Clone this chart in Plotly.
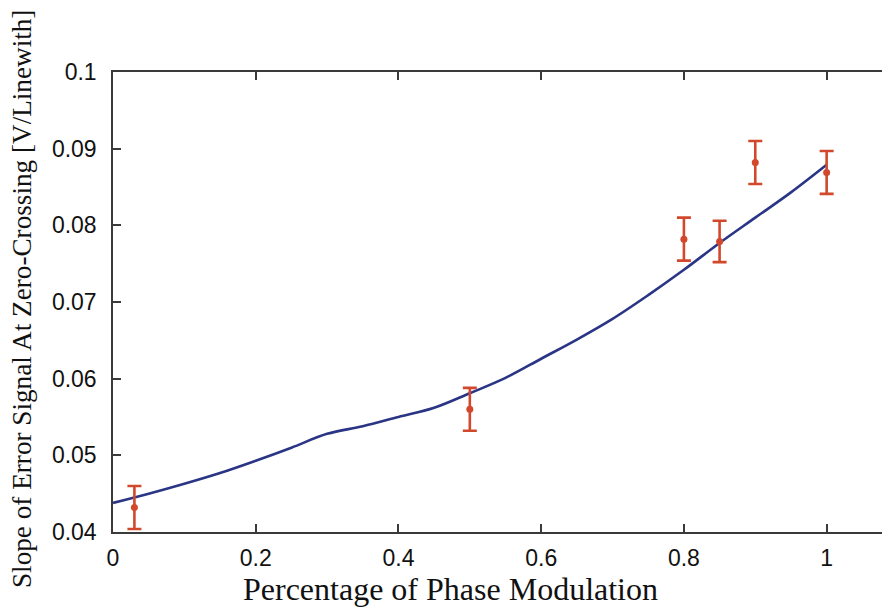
import plotly.graph_objects as go

# Fitted model curve (blue line)
curve_x = [0.00, 0.05, 0.10, 0.15, 0.20, 0.25, 0.30, 0.35, 0.40, 0.45, 0.50,
           0.55, 0.60, 0.65, 0.70, 0.75, 0.80, 0.85, 0.90, 0.95, 1.00]
curve_y = [0.0438, 0.0450, 0.0463, 0.0477, 0.0493, 0.0510, 0.0528, 0.0538, 0.0550, 0.0562, 0.0581,
           0.0601, 0.0626, 0.0651, 0.0678, 0.0709, 0.0742, 0.0777, 0.0810, 0.0843, 0.0879]

# Measured points with error bars (red)
meas_x = [0.03, 0.50, 0.80, 0.85, 0.90, 1.00]
meas_y = [0.0432, 0.0560, 0.0782, 0.0779, 0.0882, 0.0869]
meas_err = [0.0028, 0.0028, 0.0028, 0.0027, 0.0028, 0.0028]

x_ticks = [0, 0.2, 0.4, 0.6, 0.8, 1]
x_tick_labels = ["0", "0.2", "0.4", "0.6", "0.8", "1"]
y_ticks = [0.04, 0.05, 0.06, 0.07, 0.08, 0.09, 0.1]
y_tick_labels = ["0.04", "0.05", "0.06", "0.07", "0.08", "0.09", "0.1"]

x_title = "Percentage of Phase Modulation"
y_title = "Slope of Error Signal At Zero-Crossing [V/Linewith]"

RED = "#d2482c"
BLUE = "#2a3585"
AXIS = "#3a3a3a"

fig = go.Figure()
fig.add_trace(go.Scatter(x=curve_x, y=curve_y, mode="lines",
                         line=dict(color=BLUE, width=2.6), line_shape="spline",
                         showlegend=False, hoverinfo="skip"))
fig.add_trace(go.Scatter(x=meas_x, y=meas_y, mode="markers",
                         marker=dict(color=RED, size=7),
                         error_y=dict(type="data", array=meas_err, color=RED,
                                      thickness=2.6, width=7, visible=True),
                         showlegend=False))

W, H = 890, 612
L, T, B = 105, 64, 88   # page body adds an 8px offset
fig.update_layout(
    width=W, height=H,
    margin=dict(l=L, r=0, t=T, b=B, autoexpand=False),
    paper_bgcolor="white", plot_bgcolor="white",
    font=dict(family="Liberation Sans, Arial, sans-serif", size=23, color="#111"),
    xaxis=dict(range=[0, 1.1], tickvals=x_ticks, ticktext=x_tick_labels,
               ticks="inside", ticklen=8, tickwidth=1.5, tickcolor=AXIS,
               showline=True, linecolor=AXIS, linewidth=1.5, mirror="ticks",
               showgrid=False, zeroline=False, automargin=False,
               ticklabelstandoff=5,
               tickfont=dict(size=23, color="#111")),
    yaxis=dict(range=[0.04, 0.1], tickvals=y_ticks, ticktext=y_tick_labels,
               ticks="inside", ticklen=8, tickwidth=1.5, tickcolor=AXIS,
               showline=True, linecolor=AXIS, linewidth=1.5, mirror="ticks",
               showgrid=False, zeroline=False, automargin=False,
               ticklabelstandoff=10,
               tickfont=dict(size=23, color="#111")),
    annotations=[
        dict(text=x_title, xref="paper", yref="paper",
             x=(442 - L) / (W - L), y=(H - B - 581) / (H - B - T),
             xanchor="center", yanchor="middle", showarrow=False,
             font=dict(family="Liberation Serif, Times New Roman, serif", size=32, color="#111")),
        dict(text=y_title, xref="paper", yref="paper",
             x=(14 - L) / (W - L), y=(H - B - 291) / (H - B - T),
             xanchor="center", yanchor="middle", textangle=-90, showarrow=False,
             font=dict(family="Liberation Serif, Times New Roman, serif", size=27.2, color="#111")),
    ],
)

fig.write_html("out.html")
